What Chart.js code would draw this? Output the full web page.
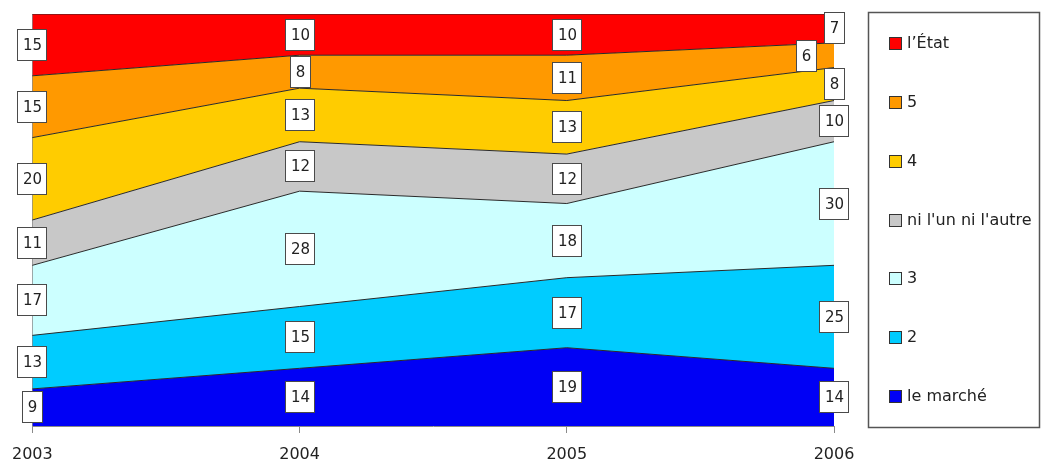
<!DOCTYPE html>
<html>
<head>
<meta charset="utf-8">
<script src="https://cdn.jsdelivr.net/npm/chart.js@4/dist/chart.umd.min.js"></script>
<style>
  html, body { margin: 0; padding: 0; background: #ffffff; }
  #wrap { width: 1041px; height: 466px; }
</style>
</head>
<body>
<div id="wrap"><canvas id="c" width="1041" height="466"></canvas></div>
<script>
// Years on the horizontal axis
const years = ['2003', '2004', '2005', '2006'];

// Shares (%) per answer, from bottom of the stack to the top
const leMarche      = [9, 14, 19, 14];
const deux          = [13, 15, 17, 25];
const trois         = [17, 28, 18, 30];
const niLunNiLautre = [11, 12, 12, 10];
const quatre        = [20, 13, 13, 8];
const cinq          = [15, 8, 11, 6];
const lEtat         = [15, 10, 10, 7];

const seriesNames  = ['le marché', '2', '3', "ni l'un ni l'autre", '4', '5', 'l\u2019État'];
const seriesValues = [leMarche, deux, trois, niLunNiLautre, quatre, cinq, lEtat];
const seriesColors = ['#0000f5', '#00ccff', '#ccffff', '#c8c8c8', '#ffcc00', '#ff9900', '#ff0000'];

// Small nudge for the label that would collide at the right edge ("series|year")
const labelNudge = { '5|3': { dx: -28, dy: 1 } };

const FONT = '"DejaVu Sans", Verdana, sans-serif';

const datasets = seriesValues.map((vals, i) => ({
  label: seriesNames[i],
  data: vals,
  backgroundColor: seriesColors[i],
  borderColor: '#2a2a2a',
  borderWidth: 1,
  pointRadius: 0,
  pointHoverRadius: 0,
  tension: 0,
  fill: i === 0 ? 'origin' : '-1'
}));

// Boxed value labels centred in each band
const boxLabels = {
  id: 'boxLabels',
  afterDatasetsDraw(chart) {
    const ctx = chart.ctx;
    const xs = chart.scales.x, ys = chart.scales.y;
    ctx.save();
    ctx.font = '15px ' + FONT;
    ctx.textAlign = 'center';
    ctx.textBaseline = 'middle';
    years.forEach((yr, j) => {
      let base = 0;
      seriesValues.forEach((vals, i) => {
        const v = vals[j];
        const mid = base + v / 2;
        base += v;
        const n = labelNudge[i + '|' + j] || { dx: 0, dy: 0 };
        const x = Math.round(xs.getPixelForValue(j) + n.dx);
        const y = Math.round(ys.getPixelForValue(mid) + n.dy);
        const txt = String(v);
        const w = Math.round(ctx.measureText(txt).width) + 10;
        const h = 31;
        const bx = x - Math.round(w / 2) + 0.5, by = y - Math.round(h / 2) + 0.5;
        ctx.fillStyle = '#ffffff';
        ctx.fillRect(bx, by, w, h);
        ctx.strokeStyle = '#4a4a4a';
        ctx.lineWidth = 1;
        ctx.strokeRect(bx, by, w, h);
        ctx.fillStyle = '#222222';
        ctx.fillText(txt, x + 0.5, y + 1);
      });
    });
    ctx.restore();
  }
};

// Framed legend at the right of the plot, top series first
const boxedLegend = {
  id: 'boxedLegend',
  afterDraw(chart) {
    const ctx = chart.ctx;
    const area = chart.chartArea;
    const left = area.right + 34, top = 12;
    const right = chart.width - 2, bottom = area.bottom + 1;
    ctx.save();
    ctx.strokeStyle = '#555555';
    ctx.lineWidth = 1.5;
    ctx.strokeRect(left + 0.5, top + 0.5, right - left, bottom - top);
    const n = seriesNames.length;
    const first = top + 31, step = (bottom - top - 62) / (n - 1);
    ctx.font = '16px ' + FONT;
    ctx.textAlign = 'left';
    ctx.textBaseline = 'middle';
    for (let k = 0; k < n; k++) {
      const i = n - 1 - k;
      const cy = Math.round(first + k * step);
      ctx.fillStyle = seriesColors[i];
      ctx.fillRect(left + 21, cy - 6, 13, 13);
      ctx.strokeStyle = '#333333';
      ctx.lineWidth = 1;
      ctx.strokeRect(left + 21.5, cy - 5.5, 12, 12);
      ctx.fillStyle = '#222222';
      ctx.fillText(seriesNames[i], left + 39, cy + 1);
    }
    ctx.restore();
  }
};

new Chart(document.getElementById('c'), {
  type: 'line',
  data: { labels: years, datasets },
  options: {
    responsive: false,
    devicePixelRatio: 1,
    animation: false,
    events: [],
    layout: { padding: { left: 29, right: 207, top: 14, bottom: 2 } },
    plugins: {
      legend: { display: false },
      tooltip: { enabled: false },
      filler: { propagate: false }
    },
    scales: {
      x: {
        offset: false,
        afterFit(scale) { scale.height = 38; },
        grid: { display: true, drawOnChartArea: false, drawTicks: true, tickLength: 7, color: '#8a8a8a' },
        border: { display: true, color: '#8a8a8a', width: 1 },
        ticks: { color: '#222222', font: { family: FONT, size: 16 }, padding: 12, maxRotation: 0, autoSkip: false }
      },
      y: {
        stacked: true,
        min: 0,
        max: 100,
        display: true,
        ticks: { display: false },
        grid: { display: false, drawTicks: false },
        border: { display: true, color: '#8a8a8a', width: 1 }
      }
    }
  },
  plugins: [boxLabels, boxedLegend]
});
</script>
</body>
</html>
